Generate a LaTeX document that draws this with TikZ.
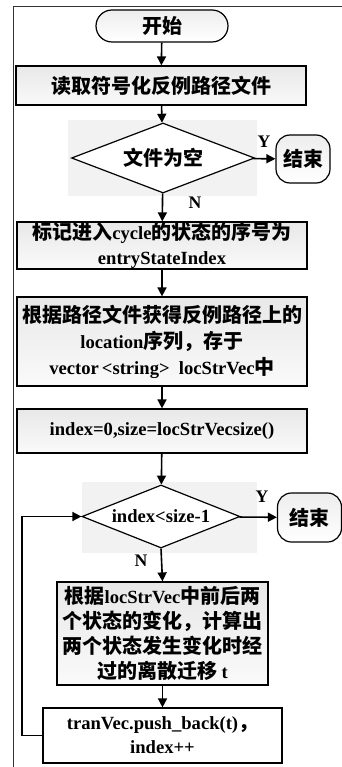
\documentclass[tikz,border=0pt]{standalone}
\usepackage{fontspec}
\setmainfont{Liberation Serif}[Scale=0.93]
\newfontfamily\cjk{Noto Sans CJK SC}
\newcommand\zh[1]{{\cjk #1}}
\usetikzlibrary{arrows.meta,shapes.geometric}
\begin{document}
\begin{tikzpicture}[x=1pt,y=-1pt,
  every node/.style={font=\fontsize{20pt}{26pt}\selectfont\bfseries, inner sep=0pt},
  procbox/.style={draw=black, line width=1.2pt, top color=black!9, bottom color=black!2, align=center},
  termbox/.style={draw=black, line width=1.2pt, top color=black!7, bottom color=white, rounded corners=14pt},
  decbox/.style={diamond, draw=black, line width=1.2pt, fill=white, aspect=2.6},
  diabg/.style={fill=black!6, draw=none},
  flow/.style={line width=1.6pt, -{Triangle[length=9pt,width=9pt]}},
  lbl/.style={font=\fontsize{19pt}{20pt}\selectfont\bfseries}]
\useasboundingbox (0,0) rectangle (342,767);
\fill[white] (0,0) rectangle (342,767);
% frame
\draw[line width=1pt, black!80] (13,767) -- (13,7) -- (342,7);
% diamond backgrounds
\fill[black!5] (68,120) rectangle (257,196);
\fill[black!5] (82,482) rectangle (257,553);
% nodes
\node[termbox, minimum width=132pt, minimum height=32pt, rounded corners=16pt] (start) at (162,26) {\zh{开始}};
\node[procbox, minimum width=290pt, minimum height=39pt] (b1) at (161,85.5) {\zh{读取符号化反例路径文件}};
\node[decbox, minimum width=183pt, minimum height=70pt] (d1) at (163,158) {\zh{文件为空}};
\node[termbox, minimum width=54pt, minimum height=48pt] (e1) at (303,159) {\zh{结束}};
\node[procbox, minimum width=290pt, minimum height=47pt] (b2) at (162,245.5) {\zh{标记进入}cycle\zh{的状态的序号为}\\[-1pt] entryStateIndex};
\node[procbox, minimum width=290pt, minimum height=89pt] (b3) at (162,341.5) {\zh{根据路径文件获得反例路径上的}\\ location\zh{序列，存于}\\ vector\,<string>\ \ locStrVec\zh{中}};
\node[procbox, minimum width=290pt, minimum height=44pt] (b4) at (162,431) {index=0,size=locStrVecsize()};
\node[decbox, minimum width=158pt, minimum height=63pt] (d2) at (161,516.5) {index<size-1};
\node[termbox, minimum width=64pt, minimum height=49pt] (e2) at (309.5,517.5) {\zh{结束}};
\node[procbox, minimum width=211pt, minimum height=103pt, font=\fontsize{20pt}{25pt}\selectfont\bfseries] (b5) at (162.5,633.5) {\zh{根据}locStrVec\zh{中前后两}\\ \zh{个状态的变化，计算出}\\ \zh{两个状态发生变化时经}\\ \zh{过的离散迁移} t};
\node[procbox, minimum width=239pt, minimum height=55pt, fill=white, top color=white, bottom color=white] (b6) at (162.5,735.5) {tranVec.push\_back(t)\zh{，}\\[-2pt] index++};
\coordinate (lp1) at (22,735.5);
\coordinate (lp2) at (22,516.5);
% connectors
\draw[flow] (start) -- (b1);
\draw[flow] (b1) -- (d1);
\draw[flow] (d1) -- (e1);
\draw[flow] (d1) -- (b2);
\draw[flow] (b2) -- (b3);
\draw[flow] (b3) -- (b4);
\draw[flow] (b4) -- (d2);
\draw[flow] (d2) -- (e2);
\draw[flow] (d2.south) -- (b5.north);
\draw[flow] (b5) -- (b6);
\draw[flow] (b6.west) -- (lp1) -- (lp2) -- (d2.west);
% labels
\node[lbl] (y1) at (264,142) {Y};
\node[lbl] (n1) at (195,203) {N};
\node[lbl] (y2) at (262,497) {Y};
\node[lbl] (n2) at (141,561) {N};
\end{tikzpicture}
\end{document}
